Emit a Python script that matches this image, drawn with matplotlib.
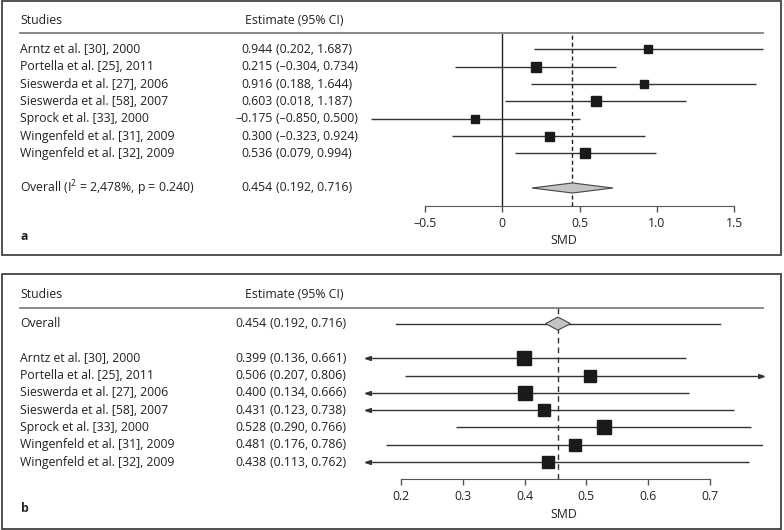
import matplotlib
matplotlib.use("Agg")
import matplotlib.pyplot as plt
from matplotlib import transforms
from matplotlib.patches import Rectangle, Polygon

plt.rcParams['font.family'] = ['Open Sans', 'DejaVu Sans']

# data
studies = ["Arntz et al. [30], 2000", "Portella et al. [25], 2011",
           "Sieswerda et al. [27], 2006", "Sieswerda et al. [58], 2007",
           "Sprock et al. [33], 2000", "Wingenfeld et al. [31], 2009",
           "Wingenfeld et al. [32], 2009"]

est_a = [0.944, 0.215, 0.916, 0.603, -0.175, 0.300, 0.536]
lo_a = [0.202, -0.304, 0.188, 0.018, -0.850, -0.323, 0.079]
hi_a = [1.687, 0.734, 1.644, 1.187, 0.500, 0.924, 0.994]
size_a = [8.3, 10, 8.3, 9.3, 8.7, 9, 10]  # box size in px (weights)

est_b = [0.399, 0.506, 0.400, 0.431, 0.528, 0.481, 0.438]
lo_b = [0.136, 0.207, 0.134, 0.123, 0.290, 0.176, 0.113]
hi_b = [0.661, 0.806, 0.666, 0.738, 0.766, 0.786, 0.762]
size_b = [13.3, 12, 13.3, 11.3, 14, 12, 12]

overall = (0.454, 0.192, 0.716)
overall_label_a = r"Overall (I$^\mathregular{2}$ = 2,478%, p = 0.240)"
ticks_a = [-0.5, 0, 0.5, 1.0, 1.5]
ticklabels_a = ["\u20130.5", "0", "0.5", "1.0", "1.5"]
ticks_b = [0.2, 0.3, 0.4, 0.5, 0.6, 0.7]
ticklabels_b = ["0.2", "0.3", "0.4", "0.5", "0.6", "0.7"]

W, H = 784, 530
TXT = '#222222'
FS = 8.8


def fmt(v):
    s = "%.3f" % v
    return s.replace('-', '\u2013')


def rect(l, t, r, b):
    return [l / W, 1 - b / H, (r - l) / W, (b - t) / H]


fig = plt.figure(figsize=(W / 100, H / 100), dpi=100)

# panel frames
for (l, t, r, b) in [(1.5, 1, 781, 254.5), (1.5, 274, 781, 529)]:
    fig.add_artist(Rectangle((l / W, 1 - b / H), (r - l) / W, (b - t) / H,
                             transform=fig.transFigure, fill=False,
                             edgecolor='#333333', lw=1.2))


def setup_axis(ax, ticks, labels):
    for s in ['top', 'left', 'right']:
        ax.spines[s].set_visible(False)
    ax.spines['bottom'].set_bounds(ticks[0], ticks[-1])
    ax.spines['bottom'].set_color('#555555')
    ax.set_yticks([])
    ax.set_xticks(ticks)
    ax.set_xticklabels(labels)
    ax.tick_params(axis='x', length=4, width=1, color='#555555',
                   labelsize=FS, labelcolor=TXT, pad=4)
    ax.set_xlabel("SMD", fontsize=FS, color=TXT, labelpad=3)
    ax.patch.set_visible(False)


def row_text(ax, x_px, y, s, **kw):
    tr = transforms.blended_transform_factory(fig.transFigure, ax.transData)
    ax.text(x_px / W, y, s, transform=tr, fontsize=FS, color=TXT,
            va='center', clip_on=False, **kw)


def header(ax, y_text, y_line):
    row_text(ax, 20.5, y_text, "Studies")
    row_text(ax, 245, y_text, "Estimate (95% CI)")
    tr = transforms.blended_transform_factory(fig.transFigure, ax.transData)
    ax.plot([20 / W, 763.3 / W], [y_line, y_line], transform=tr,
            color='#808080', lw=1.3, clip_on=False)


HEAD = [(-1, 0), (1, 0.7), (1, -0.7), (-1, 0)]
HEAD_MS = 4


def arrow_head(ax, x_tip, y, direction):
    # filled triangle whose tip sits on x_tip
    verts = [(direction * -vx, vy) for vx, vy in HEAD]
    tr = transforms.offset_copy(ax.transData, fig=fig,
                                x=-direction * HEAD_MS / 2, y=0, units='points')
    ax.plot(x_tip, y, marker=verts, markersize=HEAD_MS, color='#333333',
            transform=tr, clip_on=False, zorder=3)


# ---------- panel a ----------
xa = (-0.9, 1.7)
axa = fig.add_axes(rect(502.3 + 154.6 * xa[0], 33.5, 502.3 + 154.6 * xa[1], 206))
axa.set_xlim(*xa)
axa.set_ylim(9.04, -0.92)
setup_axis(axa, ticks_a, ticklabels_a)
header(axa, -1.65, -0.92)

axa.axvline(0, color='#222222', lw=1)
axa.axvline(overall[0], color='#222222', lw=1, linestyle=(0, (3, 2)))

for i, name in enumerate(studies):
    axa.plot([lo_a[i], hi_a[i]], [i, i], color='#333333', lw=1,
             solid_capstyle='butt')
    axa.plot(est_a[i], i, marker='s', markersize=size_a[i] * 0.72,
             color='#1a1a1a', mec='#1a1a1a')
    row_text(axa, 20.5, i, name)
    row_text(axa, 273, i, fmt(est_a[i]), ha='right')
    row_text(axa, 276, i, "(%s, %s)" % (fmt(lo_a[i]), fmt(hi_a[i])))

yo = 8
axa.add_patch(Polygon([(overall[1], yo), (overall[0], yo - 0.29),
                       (overall[2], yo), (overall[0], yo + 0.29)],
                      closed=True, facecolor='#c4c4c4', edgecolor='#444444',
                      lw=0.8, zorder=3))
row_text(axa, 20.5, yo, overall_label_a)
row_text(axa, 273, yo, fmt(overall[0]), ha='right')
row_text(axa, 276, yo, "(%s, %s)" % (fmt(overall[1]), fmt(overall[2])))
fig.text(20.5 / W, 1 - 237 / H, "a", fontsize=FS, fontweight='bold',
         color=TXT, va='center')

# ---------- panel b ----------
xb = (0.142, 0.786)
axb = fig.add_axes(rect(400.7 + 619 * (xb[0] - 0.2), 307.7,
                        400.7 + 619 * (xb[1] - 0.2), 479.3))
axb.set_xlim(*xb)
axb.set_ylim(7.0, -2.92)
setup_axis(axb, ticks_b, ticklabels_b)
header(axb, -3.71, -2.92)

axb.axvline(overall[0], color='#333333', lw=1, linestyle=(0, (4, 3)))

yo = -2
axb.plot([overall[1], overall[2]], [yo, yo], color='#333333', lw=1)
axb.add_patch(Polygon([(overall[0] - 0.02, yo), (overall[0], yo - 0.38),
                       (overall[0] + 0.02, yo), (overall[0], yo + 0.38)],
                      closed=True, facecolor='#c4c4c4', edgecolor='#444444',
                      lw=0.8, zorder=3))
row_text(axb, 20.5, yo, "Overall")
row_text(axb, 267, yo, fmt(overall[0]), ha='right')
row_text(axb, 270, yo, "(%s, %s)" % (fmt(overall[1]), fmt(overall[2])))

for i, name in enumerate(studies):
    a, b = max(lo_b[i], xb[0]), min(hi_b[i], xb[1])
    axb.plot([a, b], [i, i], color='#333333', lw=1, solid_capstyle='butt')
    if lo_b[i] < xb[0]:
        arrow_head(axb, a, i, -1)
    if hi_b[i] > xb[1]:
        arrow_head(axb, b, i, 1)
    axb.plot(est_b[i], i, marker='s', markersize=size_b[i] * 0.72,
             color='#1a1a1a', mec='#1a1a1a', zorder=4)
    row_text(axb, 20.5, i, name)
    row_text(axb, 267, i, fmt(est_b[i]), ha='right')
    row_text(axb, 270, i, "(%s, %s)" % (fmt(lo_b[i]), fmt(hi_b[i])))

fig.text(20.5 / W, 1 - 509 / H, "b", fontsize=FS, fontweight='bold',
         color=TXT, va='center')

fig.savefig("out.png", dpi=100)
